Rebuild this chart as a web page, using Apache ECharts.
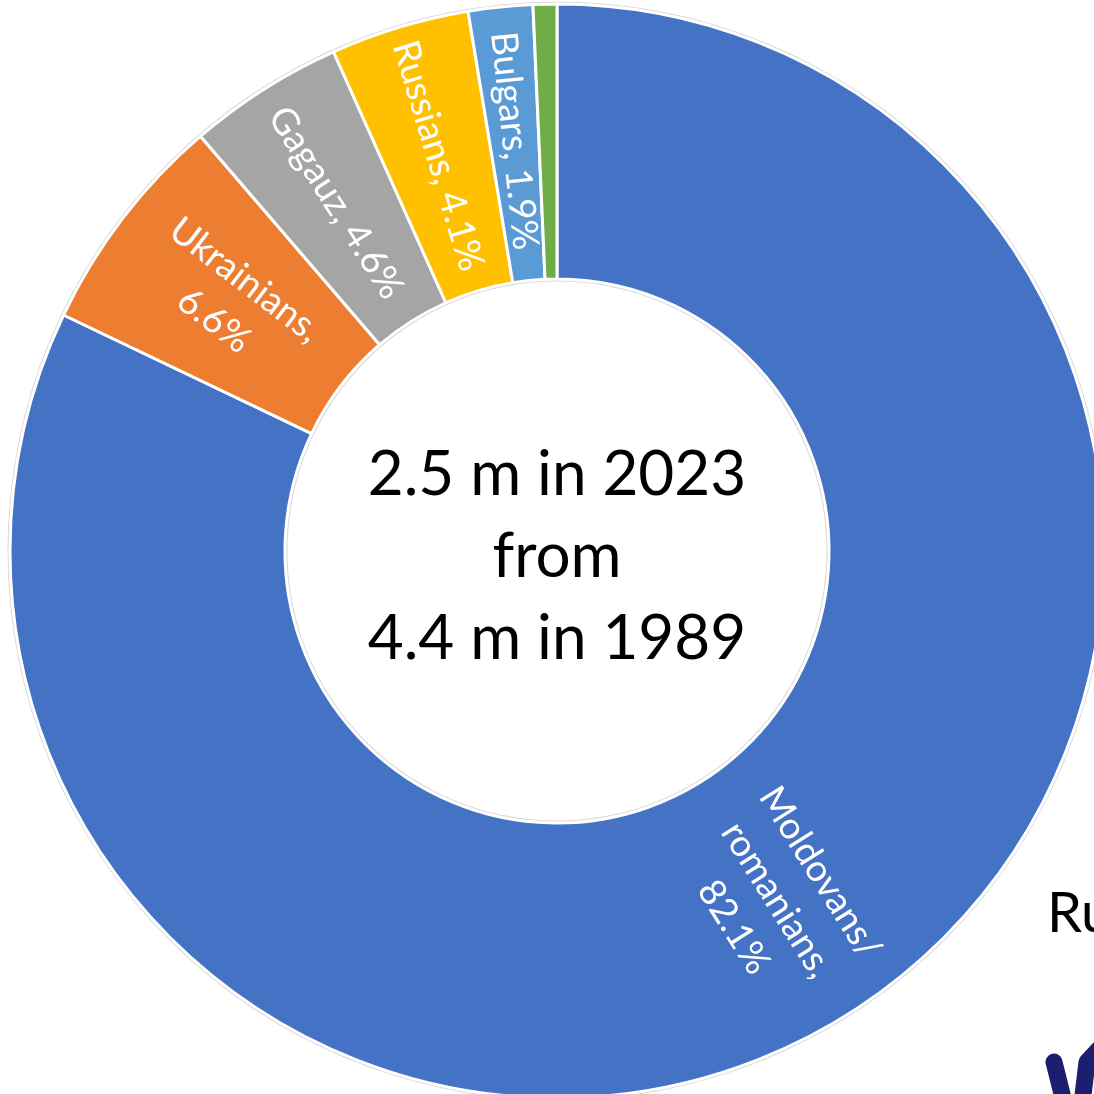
<!DOCTYPE html>
<html>
<head>
<meta charset="utf-8">
<script src="https://cdn.jsdelivr.net/npm/echarts@6/dist/echarts.min.js"></script>
<style>
html,body{margin:0;padding:0;background:#fff;}
#c{width:1094px;height:1094px;}
</style>
</head>
<body>
<div id="c"></div>
<script>
const categories = ['Moldovans/\nromanians', 'Ukrainians', 'Gagauz', 'Russians', 'Bulgars', 'Other'];
const values = [82.1, 6.6, 4.6, 4.1, 1.9, 0.7];
const labelSeparators = [',\n', ',\n', ', ', ', ', ', ', null];
const colors = ['#4472C4', '#ED7D31', '#A5A5A5', '#FFC000', '#5B9BD5', '#70AD47'];
const centerLines = ['2.5 m in 2023', 'from', '4.4 m in 1989'];

const chart = echarts.init(document.getElementById('c'), null, {renderer: 'canvas'});
const FONT = 'Lato, "Open Sans", sans-serif';

const data = categories.map((n, i) => ({
  name: n,
  value: values[i],
  itemStyle: {color: colors[i]},
  label: {show: labelSeparators[i] !== null}
}));

chart.setOption({
  animation: false,
  series: [
    {
      type: 'pie',
      silent: true,
      center: [557, 551],
      radius: [269.5, 549.5],
      startAngle: 90,
      label: {show: false},
      labelLine: {show: false},
      itemStyle: {color: '#d9d9d9'},
      data: [{value: 1}],
      z: 1
    },
    {
      type: 'pie',
      center: [557, 551],
      radius: [272, 547],
      startAngle: 90,
      clockwise: true,
      avoidLabelOverlap: false,
      itemStyle: {borderColor: '#ffffff', borderWidth: 3},
      label: {
        show: true,
        position: 'inside',
        rotate: 'radial',
        color: '#ffffff',
        fontFamily: FONT,
        fontSize: 37,
        lineHeight: 51,
        align: 'center',
        formatter: p => p.name + labelSeparators[p.dataIndex] + p.value + '%'
      },
      labelLine: {show: false},
      data: data,
      z: 2
    }
  ],
  graphic: [
    {
      type: 'text',
      x: 557, y: 557,
      z: 10,
      style: {
        text: centerLines.join('\n'),
        fontFamily: FONT,
        fontSize: 62,
        lineHeight: 82,
        fill: '#000',
        align: 'center',
        verticalAlign: 'middle'
      }
    },
    {
      type: 'text',
      x: 1047, y: 914,
      z: 10,
      style: {
        text: 'Russia',
        fontFamily: FONT,
        fontSize: 56,
        fill: '#000',
        align: 'left',
        verticalAlign: 'middle'
      }
    },
    {
      type: 'line',
      z: 10,
      shape: {x1: 1054, y1: 1062, x2: 1066, y2: 1110},
      style: {stroke: '#1c1f6e', lineWidth: 17, lineCap: 'round'}
    },
    {
      type: 'polyline',
      z: 10,
      shape: {points: [[1080, 1120], [1087, 1062], [1100, 1048]]},
      style: {stroke: '#1c1f6e', lineWidth: 17, lineCap: 'round', lineJoin: 'round', fill: null}
    }
  ]
});
</script>
</body>
</html>
